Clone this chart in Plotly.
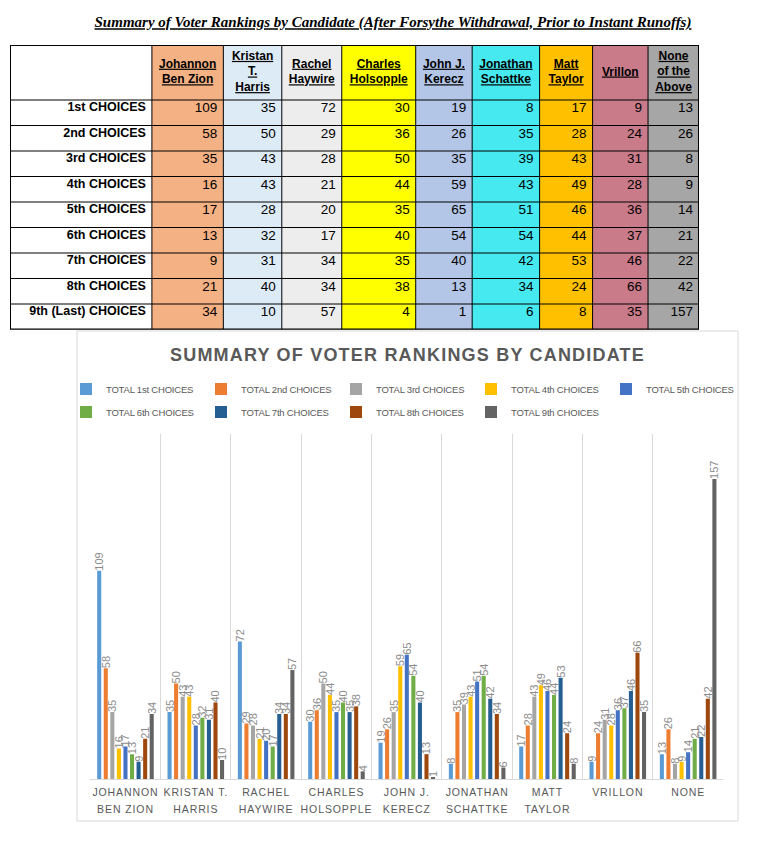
import plotly.graph_objects as go

# ---------------- data ----------------
table_headers = ["Johannon<br>Ben Zion", "Kristan<br>T.<br>Harris", "Rachel<br>Haywire",
                 "Charles<br>Holsopple", "John J.<br>Kerecz", "Jonathan<br>Schattke",
                 "Matt<br>Taylor", "Vrillon", "None<br>of the<br>Above"]
chart_categories = ["JOHANNON<br>BEN ZION", "KRISTAN T.<br>HARRIS", "RACHEL<br>HAYWIRE",
                    "CHARLES<br>HOLSOPPLE", "JOHN J.<br>KERECZ", "JONATHAN<br>SCHATTKE",
                    "MATT<br>TAYLOR", "VRILLON", "NONE"]
row_labels = ["1st CHOICES", "2nd CHOICES", "3rd CHOICES", "4th CHOICES", "5th CHOICES",
              "6th CHOICES", "7th CHOICES", "8th CHOICES", "9th (Last) CHOICES"]
series_names = ["TOTAL 1st CHOICES", "TOTAL 2nd CHOICES", "TOTAL 3rd CHOICES",
                "TOTAL 4th CHOICES", "TOTAL 5th CHOICES", "TOTAL 6th CHOICES",
                "TOTAL 7th CHOICES", "TOTAL 8th CHOICES", "TOTAL 9th CHOICES"]

choices_1st = [109, 35, 72, 30, 19, 8, 17, 9, 13]
choices_2nd = [58, 50, 29, 36, 26, 35, 28, 24, 26]
choices_3rd = [35, 43, 28, 50, 35, 39, 43, 31, 8]
choices_4th = [16, 43, 21, 44, 59, 43, 49, 28, 9]
choices_5th = [17, 28, 20, 35, 65, 51, 46, 36, 14]
choices_6th = [13, 32, 17, 40, 54, 54, 44, 37, 21]
choices_7th = [9, 31, 34, 35, 40, 42, 53, 46, 22]
choices_8th = [21, 40, 34, 38, 13, 34, 24, 66, 42]
choices_9th = [34, 10, 57, 4, 1, 6, 8, 35, 157]
all_rows = [choices_1st, choices_2nd, choices_3rd, choices_4th, choices_5th,
            choices_6th, choices_7th, choices_8th, choices_9th]

# ---------------- styles / geometry ----------------
W, H = 774, 862
def px_x(x): return x / W
def px_y(y): return 1 - y / H

column_colors = ["#FFFFFF", "#F4B183", "#DDEBF7", "#EDEDED", "#FFFF00", "#B4C6E7",
                 "#47E9F1", "#FFC000", "#C97B8A", "#A6A6A6"]
series_colors = ["#5B9BD5", "#ED7D31", "#A5A5A5", "#FFC000", "#4472C4",
                 "#70AD47", "#255E91", "#9E480E", "#636363"]
sans = "Liberation Sans, Arial, sans-serif"

table_col_widths = [142, 71.5, 58.5, 60, 74, 56.5, 67.5, 53, 55.5, 51]
header_height = 55
row_height = 25.5

col_edges = [0]
for w_ in table_col_widths:
    col_edges.append(col_edges[-1] + w_)
row_edges = [0, header_height]
for _ in row_labels:
    row_edges.append(row_edges[-1] + row_height)
tab_w, tab_h = col_edges[-1], row_edges[-1]

def underline(s):
    return "<br>".join('<span style="text-decoration:underline">%s</span>' % p for p in s.split("<br>"))

fig = go.Figure()

# ---------------- table (heatmap cells on their own axes) ----------------
z = [[c for c in range(len(col_edges) - 1)] for _ in range(len(row_edges) - 1)]
ncol = len(column_colors)
fig.add_trace(go.Heatmap(
    x=col_edges, y=row_edges, z=z, zmin=0, zmax=ncol - 1,
    colorscale=[[k / (ncol - 1), c] for k, c in enumerate(column_colors)],
    showscale=False, hoverinfo="skip", xaxis="x2", yaxis="y2",
))
# cell borders
bx, by = [], []
for xe in col_edges:
    bx += [xe, xe, None]; by += [0, tab_h, None]
for ye in row_edges:
    bx += [0, tab_w, None]; by += [ye, ye, None]
fig.add_trace(go.Scatter(x=bx, y=by, mode="lines", line=dict(color="black", width=1),
                         hoverinfo="skip", showlegend=False, xaxis="x2", yaxis="y2"))
fig.add_trace(go.Scatter(x=[0, tab_w, tab_w, 0, 0], y=[0, 0, tab_h, tab_h, 0], mode="lines",
                         line=dict(color="black", width=2), hoverinfo="skip",
                         showlegend=False, xaxis="x2", yaxis="y2"))
# header texts
fig.add_trace(go.Scatter(
    x=[(col_edges[j + 1] + col_edges[j + 2]) / 2 for j in range(len(table_headers))],
    y=[header_height / 2] * len(table_headers),
    text=["<b>%s</b>" % underline(h) for h in table_headers],
    mode="text", textposition="middle center",
    textfont=dict(family=sans, size=12, color="black"),
    hoverinfo="skip", showlegend=False, xaxis="x2", yaxis="y2"))
# row labels
fig.add_trace(go.Scatter(
    x=[col_edges[1] - 6] * len(row_labels),
    y=[row_edges[i + 1] + 2 for i in range(len(row_labels))],
    text=["<b>%s</b>" % r for r in row_labels],
    mode="text", textposition="bottom left",
    textfont=dict(family=sans, size=12.5, color="black"),
    hoverinfo="skip", showlegend=False, xaxis="x2", yaxis="y2"))
# numbers
nx, ny, nt = [], [], []
for i, row in enumerate(all_rows):
    for j, v in enumerate(row):
        nx.append(col_edges[j + 2] - 6)
        ny.append(row_edges[i + 1] + 2)
        nt.append(str(v))
fig.add_trace(go.Scatter(
    x=nx, y=ny, text=nt, mode="text", textposition="bottom left",
    textfont=dict(family=sans, size=13.5, color="black"),
    hoverinfo="skip", showlegend=False, xaxis="x2", yaxis="y2"))

# ---------------- bar chart ----------------
for i, (name, vals) in enumerate(zip(series_names, all_rows)):
    fig.add_trace(go.Bar(
        x=chart_categories, y=vals,
        name='<span style="letter-spacing:-0.2px">%s</span>' % name,
        marker=dict(color=series_colors[i], line=dict(width=0)),
        text=vals, textposition="outside", textangle=-90, constraintext="none",
        cliponaxis=False,
        textfont=dict(family=sans, size=11, color="#8C8C8C"),
        legend="legend" if i < 5 else "legend2",
        hoverinfo="skip",
    ))

span_open = '<span style="font-size:10.5px;letter-spacing:0.9px">'
tick_text = [span_open + c.replace("<br>", "</span><br>" + span_open) + "</span>"
             for c in chart_categories]

legend_common = dict(orientation="h", xanchor="left", yanchor="middle", entrywidth=90,
                     font=dict(family=sans, size=9.5, color="#595959"),
                     bgcolor="rgba(0,0,0,0)", itemwidth=30)

fig.update_layout(
    width=W, height=H,
    margin=dict(l=0, r=0, t=0, b=0),
    paper_bgcolor="white", plot_bgcolor="white",
    barmode="group", bargap=0.16, bargroupgap=0.38,
    title=dict(
        text='<b><i><span style="text-decoration:underline">Summary of Voter Rankings by Candidate (After Forsythe Withdrawal, Prior to Instant Runoffs)</span></i></b>',
        x=px_x(393), xanchor="center", y=px_y(22), yanchor="middle",
        font=dict(family="Liberation Serif, Times New Roman, serif", size=15, color="black"),
    ),
    xaxis=dict(domain=[px_x(90.3), px_x(723.3)], type="category", tickson="boundaries",
               showgrid=True, gridcolor="#D9D9D9", gridwidth=1,
               showline=True, linecolor="#D9D9D9", ticks="", tickangle=0,
               tickvals=chart_categories, ticktext=tick_text,
               tickfont=dict(family=sans, size=13, color="#595959"),
               fixedrange=True),
    yaxis=dict(domain=[px_y(779), px_y(434)], range=[0, 180.5], visible=False,
               showgrid=False, fixedrange=True),
    xaxis2=dict(domain=[px_x(10), px_x(699)], range=[0, tab_w], visible=False,
                anchor="y2", fixedrange=True),
    yaxis2=dict(domain=[px_y(45 + tab_h), px_y(45)], range=[tab_h, 0], visible=False,
                anchor="x2", fixedrange=True),
    legend=dict(x=px_x(66), y=px_y(389), **legend_common),
    legend2=dict(x=px_x(66), y=px_y(412), **legend_common),
    showlegend=True,
    annotations=[dict(
        text='<b><span style="letter-spacing:1.2px">SUMMARY OF VOTER RANKINGS BY CANDIDATE</span></b>',
        x=px_x(407), y=px_y(355), xref="paper", yref="paper", showarrow=False,
        xanchor="center", yanchor="middle",
        font=dict(family=sans, size=18, color="#595959"),
    )],
    shapes=[dict(type="rect", xref="paper", yref="paper",
                 x0=px_x(77), x1=px_x(738), y0=px_y(821), y1=px_y(331),
                 line=dict(color="#D9D9D9", width=1), fillcolor="rgba(0,0,0,0)", layer="below")],
)

fig.write_html("out.html")
